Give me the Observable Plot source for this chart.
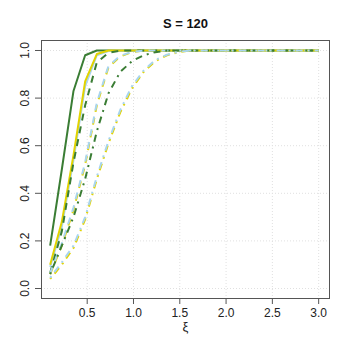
<!DOCTYPE html>
<html>
<head>
<meta charset="utf-8">
<script src="https://cdn.jsdelivr.net/npm/d3@7"></script>
<script src="https://cdn.jsdelivr.net/npm/@observablehq/plot@0.6"></script>
<style>
  html, body { margin: 0; padding: 0; background: #fff; }
  #chart svg { display: block; }
</style>
</head>
<body>
<div id="chart"></div>
<script>
const title = "S = 120";
const xLabel = "ξ";
const xTicks = [0.5, 1.0, 1.5, 2.0, 2.5, 3.0];
const yTicks = [0.0, 0.2, 0.4, 0.6, 0.8, 1.0];

const xi = [0.1, 0.226, 0.352, 0.478, 0.604, 0.730, 0.857, 0.983, 1.109, 1.235, 1.361, 1.487,
            1.613, 1.739, 1.865, 1.991, 2.117, 2.243, 2.370, 2.496, 2.622, 2.748, 2.874, 3.0];

const greenSolid   = [0.18, 0.50, 0.83, 0.98, 1, 1, 1, 1, 1, 1, 1, 1, 1, 1, 1, 1, 1, 1, 1, 1, 1, 1, 1, 1];
const yellowSolid  = [0.10, 0.28, 0.56, 0.87, 0.985, 1, 1, 1, 1, 1, 1, 1, 1, 1, 1, 1, 1, 1, 1, 1, 1, 1, 1, 1];
const blueSolid    = [0.09, 0.26, 0.54, 0.85, 0.98, 0.998, 1, 1, 1, 1, 1, 1, 1, 1, 1, 1, 1, 1, 1, 1, 1, 1, 1, 1];
const greenDash    = [0.065, 0.24, 0.53, 0.77, 0.95, 0.99, 1, 1, 1, 1, 1, 1, 1, 1, 1, 1, 1, 1, 1, 1, 1, 1, 1, 1];
const yellowDash   = [0.06, 0.18, 0.33, 0.52, 0.77, 0.93, 0.975, 0.993, 1, 1, 1, 1, 1, 1, 1, 1, 1, 1, 1, 1, 1, 1, 1, 1];
const blueDash     = [0.065, 0.19, 0.34, 0.53, 0.78, 0.935, 0.978, 0.994, 1, 1, 1, 1, 1, 1, 1, 1, 1, 1, 1, 1, 1, 1, 1, 1];
const greenDotDash = [0.06, 0.18, 0.30, 0.46, 0.66, 0.82, 0.91, 0.955, 0.98, 0.993, 1, 1, 1, 1, 1, 1, 1, 1, 1, 1, 1, 1, 1, 1];
const yellowDotDash= [0.04, 0.10, 0.17, 0.29, 0.46, 0.61, 0.74, 0.84, 0.91, 0.955, 0.98, 0.993, 1, 1, 1, 1, 1, 1, 1, 1, 1, 1, 1, 1];
const blueDotDash  = [0.045, 0.11, 0.18, 0.30, 0.47, 0.62, 0.75, 0.85, 0.915, 0.96, 0.982, 0.995, 1, 1, 1, 1, 1, 1, 1, 1, 1, 1, 1, 1];

const GREEN = "#3a7d34", YELLOW = "#e2d300", BLUE = "#a8d5ef";
const DASH = "7,6", DOTDASH = "2,5,7,5";

const seriesList = [
  {name: "greenSolid", values: greenSolid, color: GREEN, dash: null},
  {name: "blueSolid", values: blueSolid, color: BLUE, dash: null},
  {name: "yellowSolid", values: yellowSolid, color: YELLOW, dash: null},
  {name: "greenDash", values: greenDash, color: GREEN, dash: DASH},
  {name: "yellowDash", values: yellowDash, color: YELLOW, dash: DASH},
  {name: "blueDash", values: blueDash, color: BLUE, dash: DASH},
  {name: "greenDotDash", values: greenDotDash, color: GREEN, dash: DOTDASH},
  {name: "yellowDotDash", values: yellowDotDash, color: YELLOW, dash: DOTDASH},
  {name: "blueDotDash", values: blueDotDash, color: BLUE, dash: DOTDASH}
];

const lineMarks = seriesList.map(s =>
  Plot.line(xi.map((x, i) => ({x, y: s.values[i]})), {
    x: "x", y: "y", stroke: s.color, strokeWidth: 2,
    strokeDasharray: s.dash ?? undefined, strokeLinecap: "butt", strokeLinejoin: "round"
  })
);

const font = "Liberation Sans, Arial, Helvetica, sans-serif";

const chart = Plot.plot({
  width: 349,
  height: 349,
  marginLeft: 41,
  marginRight: 20,
  marginTop: 40,
  marginBottom: 51,
  style: {fontFamily: font, background: "#fff", color: "#222"},
  x: {domain: [0.0065, 3.117]},
  y: {domain: [-0.042, 1.042]},
  marks: [
    Plot.ruleX(xTicks, {stroke: "#e0e0e0", strokeDasharray: "1,2", strokeWidth: 1}),
    Plot.ruleY(yTicks, {stroke: "#e0e0e0", strokeDasharray: "1,2", strokeWidth: 1}),
    ...lineMarks,
    Plot.frame({stroke: "#555", strokeWidth: 1}),
    Plot.axisX(xTicks, {tickSize: 6, tickPadding: 4, fontSize: 12, tickFormat: d => d.toFixed(1), label: null, stroke: "#555", fill: "#222"}),
    Plot.axisY(yTicks, {tickSize: 6, tickPadding: 7, fontSize: 12, tickRotate: -90, tickFormat: d => d.toFixed(1), label: null, stroke: "#555", fill: "#222"}),
    Plot.text([xLabel], {frameAnchor: "bottom", dy: 32, fontSize: 13, fill: "#222"}),
    Plot.text([title], {frameAnchor: "top", dy: -22, fontSize: 13, fontWeight: "bold", fill: "#111"})
  ]
});

document.getElementById("chart").appendChild(chart);
</script>
</body>
</html>
